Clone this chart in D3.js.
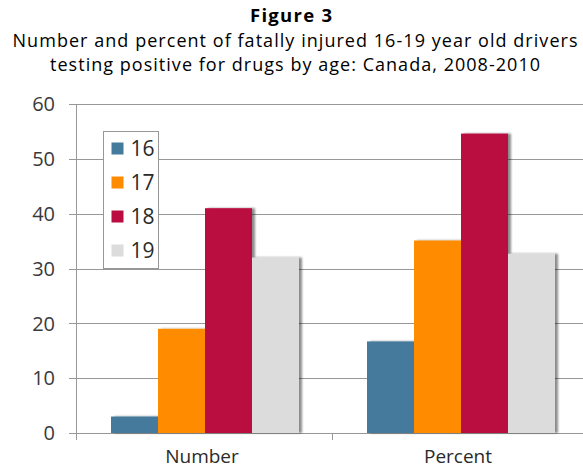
<!DOCTYPE html>
<html>
<head>
<meta charset="utf-8">
<script src="https://cdn.jsdelivr.net/npm/d3@7"></script>
<style>
  body { margin: 0; background: #fff; }
  svg { display: block; font-family: "Open Sans", sans-serif; }
</style>
</head>
<body>
<svg id="chart" width="583" height="469"></svg>
<script>
'use strict';

var categories = ['Number', 'Percent'];
var ages = ['16', '17', '18', '19'];
var colors = ['#447a9c', '#ff8c00', '#ba0c40', '#dcdcdc'];
// values per age, in category order
var values16 = [3, 16.7];
var values17 = [19, 35.1];
var values18 = [41, 54.6];
var values19 = [32, 32.7];
var yTicks = [0, 10, 20, 30, 40, 50, 60];

var series = [values16, values17, values18, values19];

var svg = d3.select('#chart');
var margin = { top: 104, right: -5, bottom: 36, left: 76 },
  width = 583 - margin.left - margin.right,
  height = 469 - margin.top - margin.bottom;

// titles
var titles = svg.append('g').attr('text-anchor', 'middle').attr('fill', '#000');
titles.append('text')
  .attr('x', 291).attr('y', 22)
  .attr('font-weight', 'bold').attr('font-size', 18.5)
  .attr('textLength', 82).attr('lengthAdjust', 'spacing')
  .text('Figure 3');
titles.append('text')
  .attr('x', 295).attr('y', 47)
  .attr('font-size', 18)
  .attr('textLength', 565).attr('lengthAdjust', 'spacing')
  .text('Number and percent of fatally injured 16-19 year old drivers');
titles.append('text')
  .attr('x', 295).attr('y', 71)
  .attr('font-size', 18)
  .attr('textLength', 490).attr('lengthAdjust', 'spacing')
  .text('testing positive for drugs by age: Canada, 2008-2010');

// shadow
var defs = svg.append('defs');
var filter = defs.append('filter')
  .attr('id', 'shadow')
  .attr('x', '-10%').attr('width', '130%');
filter.append('feGaussianBlur')
  .attr('in', 'SourceAlpha')
  .attr('stdDeviation', 1.2)
  .attr('result', 'blur');
filter.append('feOffset')
  .attr('in', 'blur').attr('dx', 2.5).attr('dy', 0)
  .attr('result', 'off');
filter.append('feComponentTransfer').attr('in', 'off').attr('result', 'soft')
  .append('feFuncA').attr('type', 'linear').attr('slope', 0.45);
var merge = filter.append('feMerge');
merge.append('feMergeNode').attr('in', 'soft');
merge.append('feMergeNode').attr('in', 'SourceGraphic');

var g = svg.append('g').attr('transform', 'translate(' + margin.left + ',' + margin.top + ')');

var x0 = d3.scaleBand().domain(categories).range([0, width]).paddingInner(0).paddingOuter(0);
var x1 = d3.scaleBand().domain(ages).range([35, x0.bandwidth() - 33]).padding(0);
var y = d3.scaleLinear().domain([0, 60]).range([height, 0]);

// gridlines
g.append('g')
  .selectAll('line')
  .data(yTicks)
  .join('line')
    .attr('x1', -7).attr('x2', width)
    .attr('y1', d => Math.round(y(d)) + 0.5)
    .attr('y2', d => Math.round(y(d)) + 0.5)
    .attr('stroke', '#979797');

// y axis line
g.append('line')
  .attr('x1', 0.5).attr('x2', 0.5)
  .attr('y1', 0).attr('y2', height + 7)
  .attr('stroke', '#979797');

// y tick labels
g.append('g')
  .selectAll('text')
  .data(yTicks)
  .join('text')
    .attr('x', -21)
    .attr('y', d => y(d))
    .attr('dy', '0.36em')
    .attr('text-anchor', 'end')
    .attr('font-size', 20)
    .attr('fill', '#3a3a3a')
    .text(d => d);

// category divider ticks
g.append('g')
  .selectAll('line')
  .data(categories.slice(1))
  .join('line')
    .attr('x1', d => Math.round(x0(d)) + 0.5)
    .attr('x2', d => Math.round(x0(d)) + 0.5)
    .attr('y1', height).attr('y2', height + 7)
    .attr('stroke', '#979797');

// bars
var groups = g.append('g')
  .selectAll('g')
  .data(categories)
  .join('g')
    .attr('transform', d => 'translate(' + x0(d) + ',0)');

groups.selectAll('rect')
  .data((c, ci) => ages.map((a, i) => ({ age: a, value: series[i][ci], color: colors[i] })))
  .join('rect')
    .attr('x', d => x1(d.age))
    .attr('width', x1.bandwidth())
    .attr('y', d => y(d.value))
    .attr('height', d => height - y(d.value))
    .attr('fill', d => d.color)
    .attr('filter', 'url(#shadow)');

// category labels
g.append('g')
  .selectAll('text')
  .data(categories)
  .join('text')
    .attr('x', d => x0(d) + x0.bandwidth() / 2 - 2)
    .attr('y', height + 30)
    .attr('text-anchor', 'middle')
    .attr('font-size', 19)
    .attr('fill', '#2a2a2a')
    .text(d => d);

// legend
var legend = svg.append('g').attr('transform', 'translate(103.5,131.5)');
legend.append('rect')
  .attr('width', 55).attr('height', 137)
  .attr('fill', '#fff').attr('stroke', '#979797');
var items = legend.selectAll('g.item')
  .data(ages)
  .join('g')
    .attr('class', 'item')
    .attr('transform', (d, i) => 'translate(8,' + (17 + i * 34) + ')');
items.append('rect')
  .attr('x', 0).attr('y', -6)
  .attr('width', 12).attr('height', 12)
  .attr('fill', (d, i) => colors[i]);
items.append('text')
  .attr('x', 19).attr('dy', '0.36em')
  .attr('font-size', 21)
  .attr('fill', '#2a2a2a')
  .text(d => d);
</script>
</body>
</html>
